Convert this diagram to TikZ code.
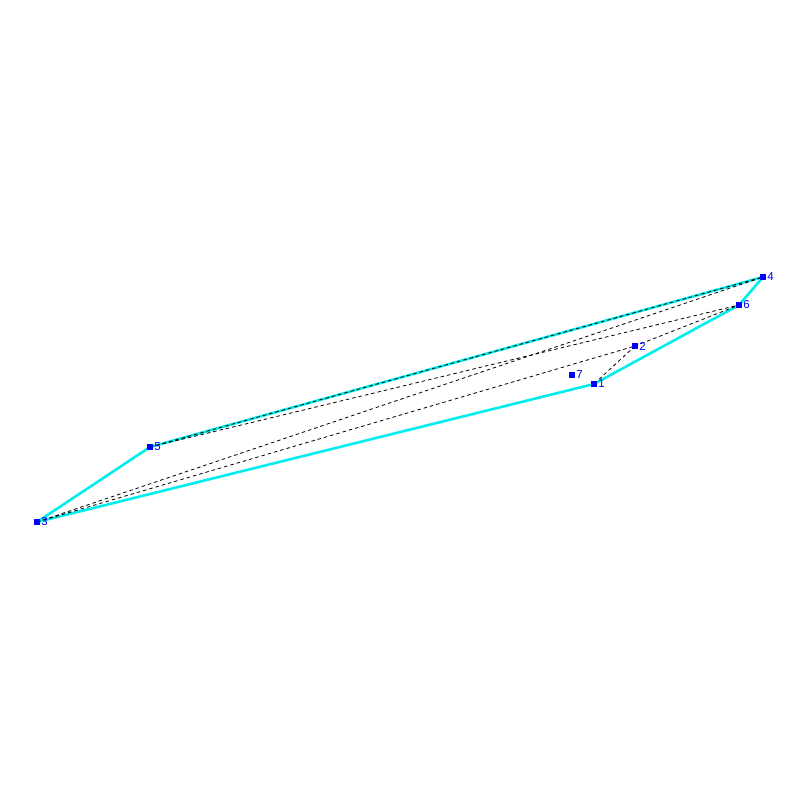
\documentclass[tikz,border=0pt]{standalone}
\usepackage{fontspec}
\setsansfont{Liberation Sans}
\usepackage{tikz}
\usepackage{xcolor}
\pgfdeclarelayer{background}
\pgfsetlayers{background,main}
\definecolor{hullcyan}{RGB}{0,238,238}
\definecolor{ptblue}{RGB}{0,0,255}
\tikzset{
    vertex/.style = {fill=ptblue, draw=none, rectangle, minimum size=6.5pt, inner sep=0pt},
    vertex-label/.style = {text=ptblue, font=\fontsize{11.5}{12}\sffamily, inner sep=0.8pt},
    hull-edge/.style = {draw=hullcyan, line width=2.6pt},
    tri-edge/.style = {draw=black, line width=0.8pt, dash pattern=on 3.5pt off 3pt},
}

\begin{document}
\begin{tikzpicture}[x=1pt, y=-1pt]
\useasboundingbox (0,0) rectangle (800,800);
\node [vertex] (p1) at (594,384) {};
\node [vertex] (p2) at (635,346) {};
\node [vertex] (p3) at (37,522) {};
\node [vertex] (p4) at (763,277) {};
\node [vertex] (p5) at (150,447) {};
\node [vertex] (p6) at (739,305) {};
\node [vertex] (p7) at (572,375) {};
\foreach \i in {1,...,7}
    \node[vertex-label, right=0pt] at (p\i.east) {\i};
\begin{pgfonlayer}{background}
% outer boundary
\foreach \a/\b in {3/1, 1/6, 6/4, 4/5, 5/3}
    \draw[hull-edge] (p\a.center) -- (p\b.center);
% inner edges
\foreach \a/\b in {5/4, 5/6, 3/4, 3/2, 2/6, 2/1}
    \draw[tri-edge] (p\a.center) -- (p\b.center);
\end{pgfonlayer}
\end{tikzpicture}
\end{document}
